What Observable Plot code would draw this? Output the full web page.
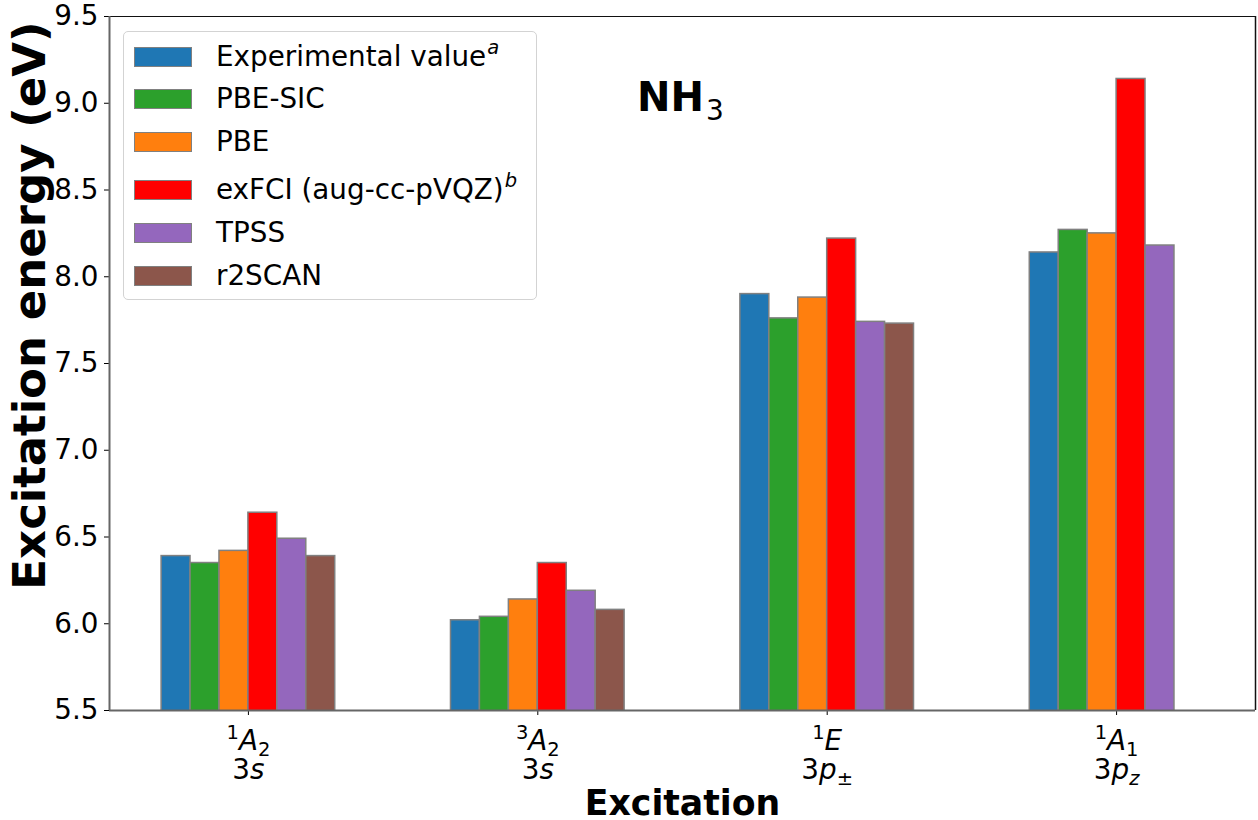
<!DOCTYPE html>
<html>
<head>
<meta charset="utf-8">
<script src="https://cdn.jsdelivr.net/npm/d3@7"></script>
<script src="https://cdn.jsdelivr.net/npm/@observablehq/plot@0.6"></script>
<style>
  html, body { margin: 0; padding: 0; background: white; }
  #wrap { position: relative; width: 1258px; height: 820px; font-family: "DejaVu Sans", sans-serif; overflow: hidden; }
  #legend { position: absolute; left: 123px; top: 31px; width: 414px; height: 269px;
    border: 1px solid #d3d3d3; border-radius: 5px; background: rgba(255,255,255,0.8); box-sizing: border-box; }
  .lrow { position: absolute; left: 10px; height: 0; }
  .lpatch { position: absolute; left: 0; top: -10px; width: 58px; height: 20px; box-sizing: border-box; border: 1.5px solid #808080; }
  .ltext { position: absolute; left: 82px; top: -17px; font-size: 27.8px; line-height: 34px; white-space: nowrap; color: black; }
  .ltext sup { font-style: italic; font-size: 19.5px; vertical-align: 0; position: relative; top: -12px; margin-left: 1px; }
  #title { position: absolute; left: 637px; top: 74px; font-size: 40px; font-weight: bold; white-space: nowrap; color: black; }
  #title sub { font-weight: normal; font-size: 28px; vertical-align: 0; position: relative; top: 9px; margin-left: 2px; }
</style>
</head>
<body>
<div id="wrap"></div>
<script>
// ---- data ----
const stateLabels   = ["^{1}A_{2}", "^{3}A_{2}", "^{1}E", "^{1}A_{1}"];
const orbitalLabels = ["3s", "3s", "3p_{±}", "3p_{z}"];
const methods   = ["Experimental value", "PBE-SIC", "PBE", "exFCI (aug-cc-pVQZ)", "TPSS", "r2SCAN"];
const methodSup = ["a", "", "", "b", "", ""];
const colors    = ["#1f77b4", "#2ca02c", "#ff7f0e", "#ff0000", "#9467bd", "#8c564b"];
const experimental = [6.39, 6.02, 7.90, 8.14];
const pbeSic       = [6.35, 6.04, 7.76, 8.27];
const pbe          = [6.42, 6.14, 7.88, 8.25];
const exfci        = [6.64, 6.35, 8.22, 9.14];
const tpss         = [6.49, 6.19, 7.74, 8.18];
const r2scan       = [6.39, 6.08, 7.73, null];
const yTicks = [5.5, 6.0, 6.5, 7.0, 7.5, 8.0, 8.5, 9.0, 9.5];
const yDomain = [5.5, 9.5];
const xDomain = [-0.48, 3.48];
const titleMain = "NH", titleSub = "3";
const xLabel = "Excitation", yLabel = "Excitation energy (eV)";

const series = [experimental, pbeSic, pbe, exfci, tpss, r2scan];
const barW = 0.1;
const rows = [];
series.forEach((vals, m) => vals.forEach((v, g) => {
  if (v == null) return;
  rows.push({g, m, method: methods[m], value: v});
}));
const groups = stateLabels.map((_, i) => i);

const plot = Plot.plot({
  width: 1258, height: 820,
  marginLeft: 109, marginRight: 3, marginTop: 16, marginBottom: 110,
  style: {fontSize: "27.8px", fontFamily: "DejaVu Sans", color: "black", background: "white", overflow: "visible"},
  x: {domain: xDomain, ticks: groups, tickFormat: () => "", tickSize: 5, label: null},
  y: {domain: yDomain, ticks: yTicks, tickFormat: d3.format(".1f"), tickSize: 5, tickPadding: 6, label: null},
  color: {domain: methods, range: colors},
  marks: [
    Plot.rectY(rows, {
      x1: d => d.g + (d.m - 3) * barW, x2: d => d.g + (d.m - 2) * barW,
      y1: 0, y2: "value", fill: "method", stroke: "#808080", strokeWidth: 1.5, clip: true
    }),
    Plot.ruleY([yDomain[1]], {stroke: "#111", strokeWidth: 1.2}),
    Plot.ruleX([xDomain[1]], {stroke: "#111", strokeWidth: 1.5}),
    Plot.ruleY([yDomain[0]], {stroke: "#666", strokeWidth: 2}),
    Plot.ruleX([xDomain[0]], {stroke: "#666", strokeWidth: 2}),
    Plot.text(groups, {x: d => d, frameAnchor: "bottom", dy: 39, lineAnchor: "bottom",
      text: d => stateLabels[d], fontSize: 27.8}),
    Plot.text(groups, {x: d => d, frameAnchor: "bottom", dy: 68, lineAnchor: "bottom",
      text: d => orbitalLabels[d], fontSize: 27.8}),
    Plot.text([xLabel], {frameAnchor: "bottom", dy: 104, lineAnchor: "bottom", textAnchor: "middle", text: d => d,
      fontSize: 34.7, fontWeight: "bold"}),
    Plot.text([yLabel], {frameAnchor: "left", dx: -79, dy: -58, rotate: -90, lineAnchor: "middle", textAnchor: "middle", text: d => d,
      fontSize: 45, fontWeight: "bold"})
  ]
});

// mathtext-like rendering: letters italic, digits/symbols upright, ^{} / _{} scripts
function renderMath(textEl, src) {
  const base = 27.8, small = 19.5;
  textEl.textContent = "";
  const tokens = [];
  let i = 0;
  while (i < src.length) {
    const c = src[i];
    if ((c === "^" || c === "_") && src[i + 1] === "{") {
      const end = src.indexOf("}", i);
      tokens.push({kind: c === "^" ? "sup" : "sub", s: src.slice(i + 2, end)});
      i = end + 1;
    } else { tokens.push({kind: "base", s: c}); i++; }
  }
  let shift = 0;
  const ns = "http://www.w3.org/2000/svg";
  tokens.forEach(t => {
    for (const ch of t.s) {
      const ts = document.createElementNS(ns, "tspan");
      const target = t.kind === "sup" ? -11 : t.kind === "sub" ? 6 : 0;
      ts.setAttribute("dy", target - shift);
      shift = target;
      ts.setAttribute("font-size", t.kind === "base" ? base : small);
      if (/[A-Za-z]/.test(ch)) ts.setAttribute("font-style", "italic");
      ts.textContent = ch;
      textEl.appendChild(ts);
    }
  });
}
const mathLabels = new Set([...stateLabels, ...orbitalLabels]);
d3.select(plot).selectAll("text").each(function() {
  const s = this.textContent;
  if (mathLabels.has(s)) renderMath(this, s);
});

const wrap = document.getElementById("wrap");
wrap.appendChild(plot);

// legend
const legend = document.createElement("div");
legend.id = "legend";
methods.forEach((m, i) => {
  const row = document.createElement("div");
  row.className = "lrow";
  row.style.top = (55.5 - 31 + i * 42.9 + (i >= 3 ? 4.5 : 0)) + "px";
  const p = document.createElement("div");
  p.className = "lpatch";
  p.style.background = colors[i];
  const t = document.createElement("div");
  t.className = "ltext";
  t.textContent = m;
  if (methodSup[i]) { const s = document.createElement("sup"); s.textContent = methodSup[i]; t.appendChild(s); }
  row.appendChild(p); row.appendChild(t);
  legend.appendChild(row);
});
wrap.appendChild(legend);

// title
const title = document.createElement("div");
title.id = "title";
title.textContent = titleMain;
const sub = document.createElement("sub");
sub.textContent = titleSub;
title.appendChild(sub);
wrap.appendChild(title);
</script>
</body>
</html>
